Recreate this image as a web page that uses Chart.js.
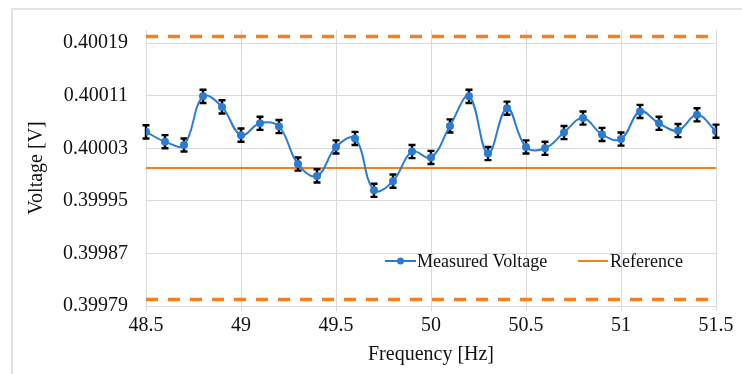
<!DOCTYPE html>
<html>
<head>
<meta charset="utf-8">
<script src="https://cdn.jsdelivr.net/npm/chart.js@4"></script>
<style>
  html, body { margin: 0; padding: 0; background: #fff; }
  #wrap { position: relative; width: 742px; height: 374px; overflow: hidden; }
  #frame { position: absolute; left: 11px; top: 8px; width: 800px; height: 420px;
           border: 2px solid #e2e2e2; box-sizing: border-box; }
  canvas { position: absolute; left: 0; top: 0; }
</style>
</head>
<body>
<div id="wrap">
  <div id="frame"></div>
  <canvas id="voltageChart" width="742" height="374"></canvas>
</div>
<script>
const frequency = [
  48.5, 48.6, 48.7, 48.8, 48.9, 49.0, 49.1, 49.2, 49.3, 49.4, 49.5,
  49.6, 49.7, 49.8, 49.9, 50.0, 50.1, 50.2, 50.3, 50.4, 50.5,
  50.6, 50.7, 50.8, 50.9, 51.0, 51.1, 51.2, 51.3, 51.4, 51.5
];
const measuredVoltage = [
  0.400055, 0.400040, 0.400035, 0.400109, 0.400093, 0.400050, 0.400068, 0.400063, 0.400006, 0.399988, 0.400032,
  0.400045, 0.399966, 0.399980, 0.400025, 0.400016, 0.400064, 0.400109, 0.400022, 0.400091, 0.400032,
  0.400030, 0.400054, 0.400076, 0.400051, 0.400044, 0.400086, 0.400068, 0.400057, 0.400081, 0.400056
];
const voltageError = [
  0.00001, 0.00001, 0.00001, 0.00001, 0.00001, 0.00001, 0.00001, 0.00001, 0.00001, 0.00001, 0.00001,
  0.00001, 0.00001, 0.00001, 0.00001, 0.00001, 0.00001, 0.00001, 0.00001, 0.00001, 0.00001,
  0.00001, 0.00001, 0.00001, 0.00001, 0.00001, 0.00001, 0.00001, 0.00001, 0.00001, 0.00001
];
const referenceVoltage = 0.40000;
const upperLimit = 0.40020;
const lowerLimit = 0.39980;
const yTicks = [0.39979, 0.39987, 0.39995, 0.40003, 0.40011, 0.40019];
const xTicks = [48.5, 49, 49.5, 50, 50.5, 51, 51.5];
const legendLabels = ["Measured Voltage", "Reference"];

const BLUE = "#2b7bd0";
const ORANGE = "#f6801f";
const GRID = "#dadada";
const FONT = "'Liberation Serif', 'Times New Roman', serif";

const xMin = frequency[0];
const xMax = frequency[frequency.length - 1];

function flatLine(v) {
  return [{ x: xMin, y: v }, { x: xMax, y: v }];
}

// black error bars with caps, drawn under the blue markers
const errorBars = {
  id: "errorBars",
  beforeDatasetDraw(chart, args) {
    if (args.index !== 0) return;
    const { ctx, scales } = chart;
    ctx.save();
    ctx.strokeStyle = "#000";
    ctx.lineWidth = 2.4;
    frequency.forEach((f, i) => {
      const x = scales.x.getPixelForValue(f);
      const top = scales.y.getPixelForValue(measuredVoltage[i] + voltageError[i]);
      const bot = scales.y.getPixelForValue(measuredVoltage[i] - voltageError[i]);
      ctx.beginPath();
      ctx.moveTo(x, top);
      ctx.lineTo(x, bot);
      ctx.moveTo(x - 3.5, top);
      ctx.lineTo(x + 3.5, top);
      ctx.moveTo(x - 3.5, bot);
      ctx.lineTo(x + 3.5, bot);
      ctx.stroke();
    });
    ctx.restore();
  }
};

// legend sits inside the plot, above the lower limit line
const insideLegend = {
  id: "insideLegend",
  afterDraw(chart) {
    const ctx = chart.ctx;
    const y = 261;
    ctx.save();
    ctx.font = "18px " + FONT;
    ctx.textBaseline = "middle";

    ctx.strokeStyle = BLUE;
    ctx.lineWidth = 2;
    ctx.beginPath();
    ctx.moveTo(385, y);
    ctx.lineTo(416, y);
    ctx.stroke();
    ctx.fillStyle = BLUE;
    ctx.beginPath();
    ctx.arc(400.5, y, 3.5, 0, Math.PI * 2);
    ctx.fill();
    ctx.fillStyle = "#111";
    ctx.fillText(legendLabels[0], 417, y + 1);

    ctx.strokeStyle = ORANGE;
    ctx.beginPath();
    ctx.moveTo(578, y);
    ctx.lineTo(608, y);
    ctx.stroke();
    ctx.fillText(legendLabels[1], 610, y + 1);
    ctx.restore();
  }
};

new Chart(document.getElementById("voltageChart"), {
  type: "line",
  data: {
    datasets: [
      {
        label: legendLabels[0],
        data: frequency.map((f, i) => ({ x: f, y: measuredVoltage[i] })),
        borderColor: BLUE,
        backgroundColor: BLUE,
        borderWidth: 2,
        pointRadius: 4,
        pointBorderWidth: 0,
        tension: 0.4
      },
      {
        label: legendLabels[1],
        data: flatLine(referenceVoltage),
        borderColor: ORANGE,
        borderWidth: 2,
        pointRadius: 0
      },
      {
        label: "Upper",
        data: flatLine(upperLimit),
        borderColor: ORANGE,
        borderWidth: 3.5,
        borderDash: [12, 10],
        pointRadius: 0
      },
      {
        label: "Lower",
        data: flatLine(lowerLimit),
        borderColor: ORANGE,
        borderWidth: 3.5,
        borderDash: [12, 10],
        pointRadius: 0
      }
    ]
  },
  options: {
    responsive: false,
    animation: false,
    layout: { padding: { left: 0, top: 26, right: 26, bottom: 0 } },
    plugins: {
      legend: { display: false },
      tooltip: { enabled: false }
    },
    scales: {
      x: {
        type: "linear",
        min: 48.5,
        max: 51.5,
        afterBuildTicks: (scale) => { scale.ticks = xTicks.map((v) => ({ value: v })); },
        afterFit: (scale) => { scale.height = 68; },
        ticks: {
          color: "#111",
          font: { family: FONT, size: 20 },
          padding: 3,
          maxRotation: 0,
          callback: (v) => String(v)
        },
        grid: { color: GRID, lineWidth: 1, drawTicks: true, tickLength: 5 },
        border: { color: GRID },
        title: {
          display: true,
          text: "Frequency [Hz]",
          color: "#111",
          font: { family: FONT, size: 20 },
          padding: { top: 0, bottom: 7 }
        }
      },
      y: {
        min: 0.39979,
        max: 0.40021,
        afterBuildTicks: (scale) => { scale.ticks = yTicks.map((v) => ({ value: v })); },
        afterFit: (scale) => { scale.width = 146; },
        ticks: {
          color: "#111",
          font: { family: FONT, size: 20 },
          padding: 18,
          callback: (v) => v.toFixed(5)
        },
        grid: { color: GRID, lineWidth: 1, drawTicks: false },
        border: { color: GRID },
        title: {
          display: true,
          text: "Voltage [V]",
          color: "#111",
          font: { family: FONT, size: 20 },
          padding: { top: 25, bottom: 0 }
        }
      }
    }
  },
  plugins: [errorBars, insideLegend]
});
</script>
</body>
</html>
